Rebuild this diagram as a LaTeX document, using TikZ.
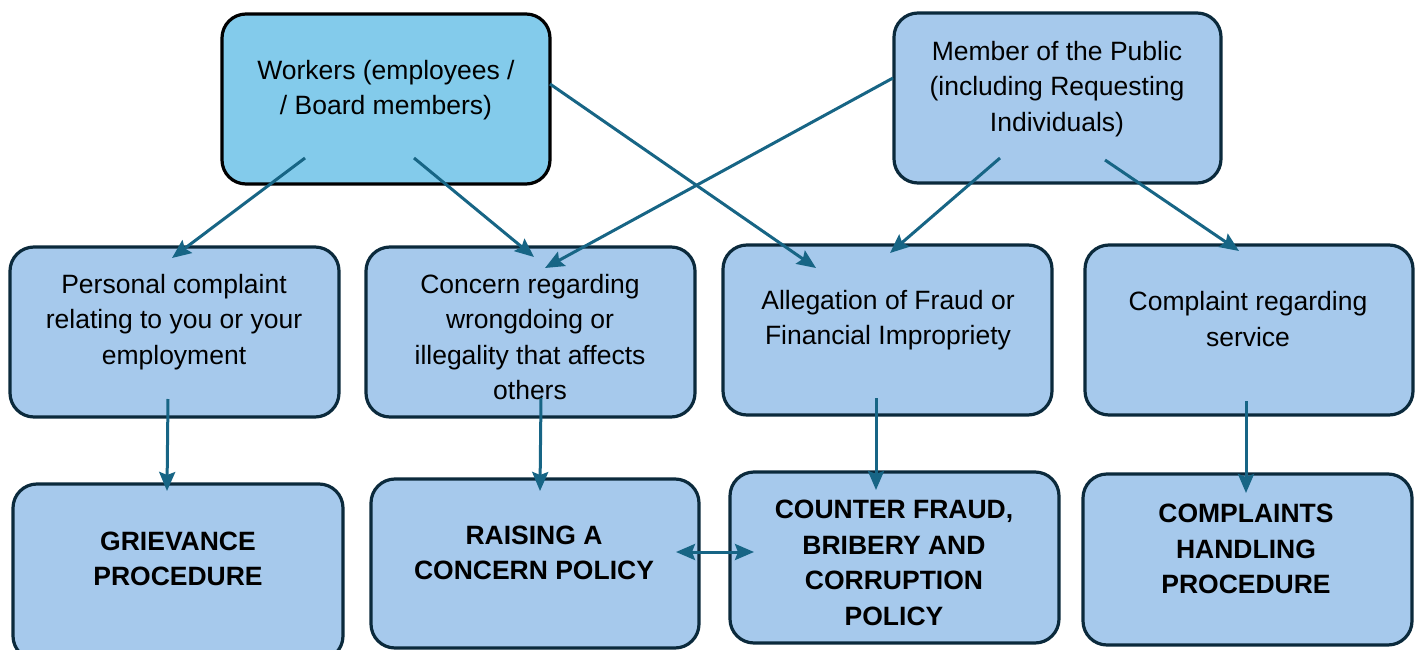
\documentclass[tikz,border=0pt]{standalone}
\usepackage{fontspec}
\setmainfont{Liberation Sans}
\usetikzlibrary{arrows.meta}
\definecolor{boxfill}{HTML}{A6C9EC}
\definecolor{topfill}{HTML}{83CBEB}
\definecolor{boxline}{HTML}{0B2A3C}
\definecolor{arrowcol}{HTML}{176585}
\begin{document}
\begin{tikzpicture}[x=1pt,y=-1pt,
  box/.style={draw=boxline, fill=boxfill, line width=3.2pt, rounded corners=24pt,
    minimum width=#1, minimum height=170pt, inner sep=0pt},
  box/.default=329pt,
  topbox/.style={box=328pt, draw=black, fill=topfill},
  txt/.style={align=center, inner sep=0pt, font=\fontsize{26.5pt}{35.5pt}\selectfont},
  btxt/.style={txt, font=\fontsize{26.5pt}{35.5pt}\selectfont\bfseries},
  link/.style={draw=arrowcol, line width=3pt,
    -{Stealth[length=19pt,width=16pt,inset=3pt]}},
  both/.style={link, {Stealth[length=19pt,width=16pt,inset=3pt]}-{Stealth[length=19pt,width=16pt,inset=3pt]}}
]
\useasboundingbox (0,0) rectangle (1421,650);

% sources
\node[topbox] (workers) at (386,99) {};
\node[box=327pt] (public) at (1057.5,98) {};
% categories
\node[box] (personal) at (174.5,332) {};
\node[box] (concern) at (530.5,332) {};
\node[box] (allegation) at (887.5,330) {};
\node[box=328pt] (complaint) at (1249,330) {};
% policies
\node[box=330pt, minimum height=176pt] (grievance) at (178,572) {};
\node[box=328pt, minimum height=169pt] (raising) at (535,563.5) {};
\node[box, minimum height=171pt] (counter) at (894.5,557.5) {};
\node[box, minimum height=171pt] (complaints) at (1247.5,559.5) {};

% texts
\node[txt] (workers-t) at (386,90) {Workers (employees /\\/ Board members)};
\node[txt] (public-t) at (1057,89) {Member of the Public\\(including Requesting\\Individuals)};
\node[txt] (personal-t) at (174,322) {Personal complaint\\relating to you or your\\employment};
\node[txt] (concern-t) at (530,337) {Concern regarding\\wrongdoing or\\illegality that affects\\others};
\node[txt] (allegation-t) at (888,320) {Allegation of Fraud or\\Financial Impropriety};
\node[txt] (complaint-t) at (1248,319) {Complaint regarding\\service};
\node[btxt] (grievance-t) at (178,559) {GRIEVANCE\\PROCEDURE};
\node[btxt] (raising-t) at (534,553) {RAISING A\\CONCERN POLICY};
\node[btxt] (counter-t) at (894,563) {COUNTER FRAUD,\\BRIBERY AND\\CORRUPTION\\POLICY};
\node[btxt] (complaints-t) at (1246,549) {COMPLAINTS\\HANDLING\\PROCEDURE};

% connector end points
\coordinate (w1) at (305,158);
\coordinate (w2) at (414,158);
\coordinate (w3) at (550,84);
\coordinate (p1) at (893,78);
\coordinate (p2) at (1000,158);
\coordinate (p3) at (1105,160);
\coordinate (in-personal) at (172,258);
\coordinate (in-concern-a) at (534,257);
\coordinate (in-concern-b) at (545,268);
\coordinate (in-allegation-a) at (816,268);
\coordinate (in-allegation-b) at (890,253);
\coordinate (in-complaint) at (1239,251);
\coordinate (out-personal) at (168,399);
\coordinate (out-concern) at (541,398);
\coordinate (out-allegation) at (876,398);
\coordinate (out-complaint) at (1246,401);
\coordinate (in-grievance) at (167,491);
\coordinate (in-raising) at (540,491);
\coordinate (in-counter) at (876,490);
\coordinate (in-complaints) at (1246,493);
\coordinate (raising-r) at (676,552);
\coordinate (counter-l) at (754,552);

% connectors
\draw[link] (w1) -- (in-personal);
\draw[link] (w2) -- (in-concern-a);
\draw[link] (w3) -- (in-allegation-a);
\draw[link] (p1) -- (in-concern-b);
\draw[link] (p2) -- (in-allegation-b);
\draw[link] (p3) -- (in-complaint);
\draw[link] (out-personal) -- (in-grievance);
\draw[link] (out-concern) -- (in-raising);
\draw[link] (out-allegation) -- (in-counter);
\draw[link] (out-complaint) -- (in-complaints);
\draw[both] (raising-r) -- (counter-l);
\end{tikzpicture}
\end{document}
